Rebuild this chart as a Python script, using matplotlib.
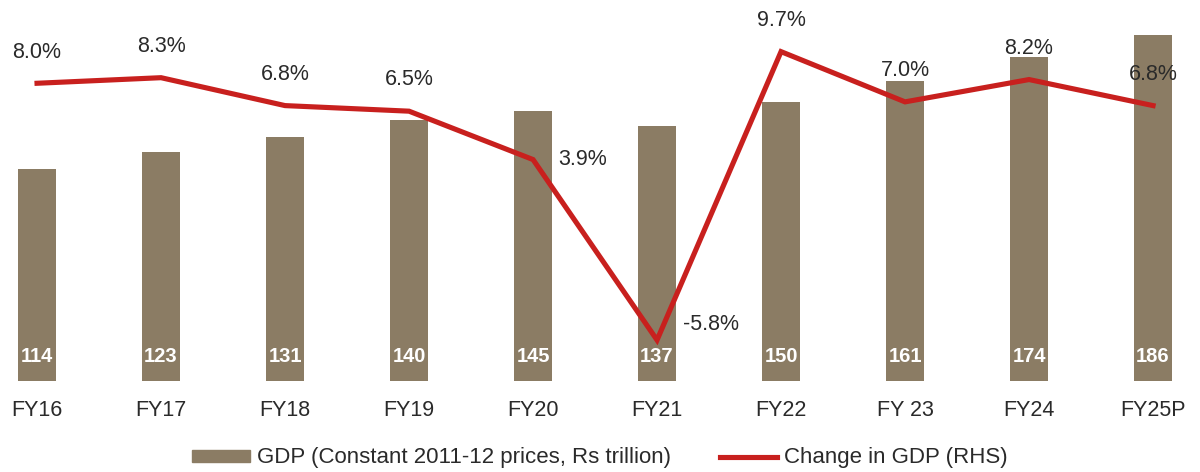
import matplotlib
matplotlib.use("Agg")
import matplotlib.pyplot as plt
from matplotlib.lines import Line2D
from matplotlib.patches import Patch

plt.rcParams['font.family'] = ['Liberation Sans', 'DejaVu Sans']

years = ["FY16", "FY17", "FY18", "FY19", "FY20", "FY21", "FY22", "FY 23", "FY24", "FY25P"]
gdp = [114, 123, 131, 140, 145, 137, 150, 161, 174, 186]
growth = [8.0, 8.3, 6.8, 6.5, 3.9, -5.8, 9.7, 7.0, 8.2, 6.8]

bar_color = "#8b7c64"
line_color = "#c8201e"
text_color = "#2a2a2a"

fig = plt.figure(figsize=(12, 4.72), dpi=100)
ax = fig.add_axes([10 / 1200, 91 / 472, 1180 / 1200, 361 / 472])
ax2 = ax.twinx()

x = list(range(len(years)))
ax.bar(x, gdp, width=0.31, color=bar_color, zorder=1)
ax.set_ylim(0, 194)
ax.set_xlim(-0.218, 9.298)

ax2.plot(x, growth, color=line_color, lw=3.7, solid_joinstyle="miter", zorder=3)
ax2.set_ylim(-8.0, 11.4)

for a in (ax, ax2):
    for s in a.spines.values():
        s.set_visible(False)
    a.set_yticks([])

ax.set_xticks(x)
ax.set_xticklabels(years, fontsize=15.5, color=text_color)
ax.tick_params(axis="x", length=0, pad=14)

# bar values at the foot of each bar
for i, v in enumerate(gdp):
    ax.annotate(f"{v}", xy=(i, 0), xytext=(0, 17.5), textcoords="offset points",
                ha="center", va="center", color="white", fontsize=14.5,
                fontweight="bold", zorder=4)

# growth labels
for i, g in enumerate(growth):
    if g == 3.9:
        off, ha = (18, 0), "left"
    elif g < 0:
        off, ha = (19, 11.5), "left"
    else:
        off, ha = (0, 22.5), "center"
    ax2.annotate(f"{g:.1f}%", xy=(i, g), xytext=off, textcoords="offset points",
                 ha=ha, va="center", color=text_color, fontsize=15.5, zorder=5)

handles = [Patch(color=bar_color), Line2D([], [], color=line_color, lw=3.7)]
labels = ["GDP (Constant 2011-12 prices, Rs trillion)", "Change in GDP (RHS)"]
fig.legend(handles, labels, loc="center", bbox_to_anchor=(0.5, 14 / 472), ncol=2,
           frameon=False, fontsize=16, handlelength=2.6, handleheight=0.45,
           handletextpad=0.3, columnspacing=2.2, labelcolor=text_color)

fig.savefig("out.png", dpi=100, facecolor="white")
